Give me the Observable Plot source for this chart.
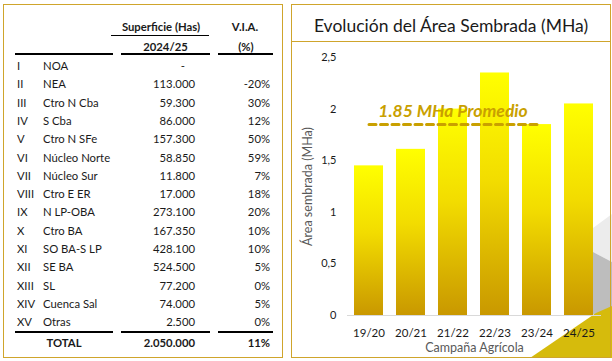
<!DOCTYPE html>
<html>
<head>
<meta charset="utf-8">
<script src="https://cdn.jsdelivr.net/npm/d3@7"></script>
<script src="https://cdn.jsdelivr.net/npm/@observablehq/plot@0.6"></script>
<style>
  html, body { margin: 0; padding: 0; background: #fff; }
  body { width: 612px; height: 361px; position: relative; overflow: hidden; font-family: Lato, "Open Sans", sans-serif; color: #1a1a1a; }
  .panel { position: absolute; border: 1.5px solid #cfa52c; box-sizing: border-box; }
  .t { position: absolute; white-space: nowrap; font-size: 11.3px; line-height: 1; transform: translateY(-50%); }
  .b { font-weight: bold; }
  .rule { position: absolute; background: #000; }
  #title { position: absolute; left: 292px; width: 318px; top: 25px; transform: translateY(-50%); text-align: center; font-size: 17.5px; color: #1a1a1a; }
  #deco { position: absolute; left: 0; top: 0; }
  #chart { position: absolute; left: 292px; top: 41px; }
</style>
</head>
<body>
<svg id="deco" width="612" height="361">
  <polygon points="593,228 612,214 612,262 593,252" fill="#ececec"/>
  <polygon points="593,252 612,262 612,330 593,314" fill="#bdbdbd"/>
  <polygon points="530,358 596,313 612,306 612,358" fill="#d6bb0c"/>
</svg>
<div class="panel" style="left:3px;top:4px;width:280px;height:354px;"></div>
<div class="panel" style="left:291px;top:4px;width:320px;height:354px;"></div>
<div class="panel" style="left:291px;top:4px;width:320px;height:38px;border-bottom-width:1.5px;"></div>
<div id="title">Evolución del Área Sembrada (MHa)</div>
<div id="table"></div>
<div id="chart"></div>
<script>
// ---- Table data ----
const romans = ["I","II","III","IV","V","VI","VII","VIII","IX","X","XI","XII","XIII","XIV","XV"];
const regions = ["NOA","NEA","Ctro N Cba","S Cba","Ctro N SFe","Núcleo Norte","Núcleo Sur","Ctro E ER","N LP-OBA","Ctro BA","SO BA-S LP","SE BA","SL","Cuenca Sal","Otras"];
const superficie = ["-","113.000","59.300","86.000","157.300","58.850","11.800","17.000","273.100","167.350","428.100","524.500","77.200","74.000","2.500"];
const via = ["","-20%","30%","12%","50%","59%","7%","18%","20%","10%","10%","5%","0%","5%","0%"];
const headers = ["Superficie (Has)","V.I.A.","2024/25","(%)"];
const totalRow = ["TOTAL","2.050.000","11%"];

// ---- Chart data ----
const campaigns = ["19/20","20/21","21/22","22/23","23/24","24/25"];
const area = [1.45, 1.61, 2.0, 2.35, 1.85, 2.05];
const average = 1.85;
const averageLabel = "1.85 MHa Promedio";
const yTicks = [0, 0.5, 1, 1.5, 2, 2.5];

// ---- Build table ----
const tbl = document.getElementById("table");
function txt(s, x, y, anchor, bold) {
  const el = document.createElement("div");
  el.className = "t" + (bold ? " b" : "");
  el.textContent = s;
  el.style.top = y + "px";
  if (anchor === "start") el.style.left = x + "px";
  else if (anchor === "end") el.style.right = (612 - x) + "px";
  else { el.style.left = x + "px"; el.style.transform = "translate(-50%,-50%)"; }
  tbl.appendChild(el);
}
function rule(x1, x2, y, h) {
  const el = document.createElement("div");
  el.className = "rule";
  el.style.left = x1 + "px"; el.style.width = (x2 - x1) + "px";
  el.style.top = (y - h / 2) + "px"; el.style.height = h + "px";
  tbl.appendChild(el);
}
txt(headers[0], 161, 27, "middle", true);
txt(headers[1], 245, 27, "middle", true);
txt(headers[2], 165.5, 47, "middle", true);
txt(headers[3], 246, 47, "middle", true);
rule(111, 209, 35.5, 1.5);
const segs = [[15,113],[121,210],[218,273]];
segs.forEach(([a,b]) => { rule(a, b, 54.3, 2); rule(a, b, 332.3, 2); });
romans.forEach((r, i) => {
  const y = 66 + i * 18.3;
  txt(r, 17, y, "start");
  txt(regions[i], 43, y, "start");
  txt(superficie[i], superficie[i] === "-" ? 185 : 195, y, "end");
  if (via[i]) txt(via[i], 270, y, "end");
});
txt(totalRow[0], 64, 343, "middle", true);
txt(totalRow[1], 195, 343, "end", true);
txt(totalRow[2], 270, 343, "end", true);

// ---- Chart ----
const data = campaigns.map((c, i) => ({campaign: c, area: area[i]}));
const avgLine = [{campaign: campaigns[0], v: average}, {campaign: campaigns[4], v: average}];
const fmt = d => d3.format(".1~f")(d).replace(".", ",");

const chart = Plot.plot({
  width: 318,
  height: 317,
  marginLeft: 55,
  marginRight: 9,
  marginTop: 16,
  marginBottom: 43,
  style: {fontFamily: "Lato, 'Open Sans', sans-serif", background: "transparent", overflow: "visible"},
  x: {domain: campaigns, paddingInner: 0.3, paddingOuter: 0.15},
  y: {domain: [0, 2.5]},
  marks: [
    Plot.barY(data, {x: "campaign", y: "area", fill: "url(#barGrad)"}),
    Plot.ruleY([0], {stroke: "#d9d9d9", strokeWidth: 1.2}),
    Plot.lineY(avgLine, {x: "campaign", y: "v", stroke: "#c9a000", strokeWidth: 3, strokeDasharray: "7,4.5"}),
    Plot.text([{campaign: campaigns[2], v: average}], {x: "campaign", y: "v", text: () => averageLabel, dy: -13, fill: "#c9a000", fontSize: 17.5, fontWeight: "bold", fontStyle: "italic"}),
    Plot.axisY({ticks: yTicks, tickSize: 0, tickPadding: 11, tickFormat: fmt, fontSize: 11, color: "#1a1a1a", label: "Área sembrada (MHa)", labelAnchor: "center", labelArrow: false, labelOffset: 44}),
    Plot.axisX({tickSize: 0, tickPadding: 13, fontSize: 11.5, color: "#1a1a1a", label: "Campaña Agrícola", labelAnchor: "center", labelArrow: false, labelOffset: 36})
  ]
});
// gradient defs
const ns = "http://www.w3.org/2000/svg";
const defs = document.createElementNS(ns, "defs");
const lg = document.createElementNS(ns, "linearGradient");
lg.setAttribute("id", "barGrad");
lg.setAttribute("x1", "0"); lg.setAttribute("y1", "0"); lg.setAttribute("x2", "0"); lg.setAttribute("y2", "1");
[["0", "#ffff00"], ["0.45", "#f2dc00"], ["1", "#c99800"]].forEach(([o, c]) => {
  const s = document.createElementNS(ns, "stop");
  s.setAttribute("offset", o); s.setAttribute("stop-color", c);
  lg.appendChild(s);
});
defs.appendChild(lg);
chart.insertBefore(defs, chart.firstChild);
// axis label colours
chart.querySelectorAll("[aria-label='y-axis label'], [aria-label='x-axis label']").forEach(g => {
  g.setAttribute("fill", "#595959");
  g.setAttribute("font-size", "12.5");
});
document.getElementById("chart").appendChild(chart);
</script>
</body>
</html>
